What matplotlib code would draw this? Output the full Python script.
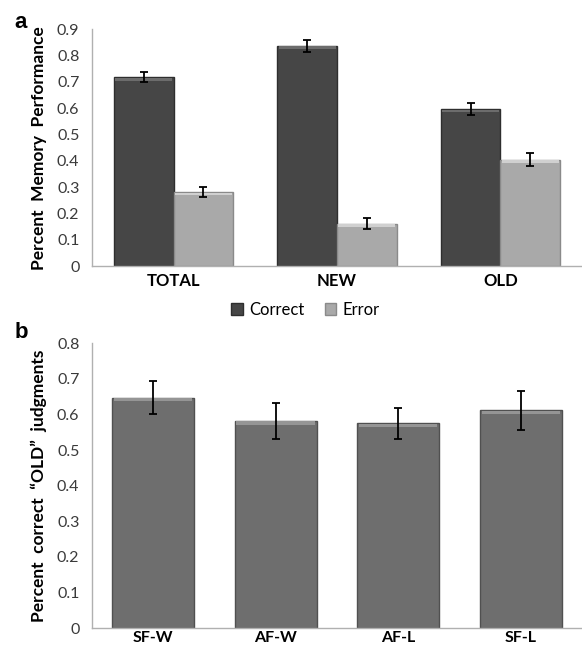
import matplotlib
matplotlib.use("Agg")
import matplotlib.pyplot as plt
import numpy as np

# panel a: memory performance by trial type
categories_a = ["TOTAL", "NEW", "OLD"]
correct = [0.717, 0.837, 0.597]
correct_err = [0.019, 0.023, 0.024]
error = [0.282, 0.162, 0.405]
error_err = [0.018, 0.021, 0.025]
yticks_a = [0, 0.1, 0.2, 0.3, 0.4, 0.5, 0.6, 0.7, 0.8, 0.9]

# panel b: correct OLD judgments by condition
categories_b = ["SF-W", "AF-W", "AF-L", "SF-L"]
old_correct = [0.647, 0.582, 0.575, 0.611]
old_err = [0.047, 0.050, 0.044, 0.054]
yticks_b = [0, 0.1, 0.2, 0.3, 0.4, 0.5, 0.6, 0.7, 0.8]

FONT = "Lato"
TICK_COLOR = "#3a3a3a"
SPINE_COLOR = "#b0b0b0"


def style_axis(ax, yticks, ymax):
    ax.set_ylim(0, ymax)
    ax.set_yticks(yticks)
    ax.set_yticklabels([f"{t:g}" for t in yticks], fontsize=11.5,
                       family=FONT, color=TICK_COLOR)
    ax.tick_params(axis="y", length=0, pad=9)
    ax.tick_params(axis="x", length=0, pad=5)
    for side in ["top", "right"]:
        ax.spines[side].set_visible(False)
    for side in ["left", "bottom"]:
        ax.spines[side].set_color(SPINE_COLOR)
        ax.spines[side].set_linewidth(1.0)


def beveled_bars(ax, x, heights, width, face, edge, top, strip):
    bars = ax.bar(x, heights, width=width, color=face, edgecolor=edge,
                  linewidth=1.0, zorder=2)
    # light strip along the top, like the bevel in the original
    ax.bar(x, [strip] * len(heights), width=width * 0.96,
           bottom=np.array(heights) - strip * 1.2, color=top, linewidth=0,
           zorder=3)
    return bars


fig = plt.figure(figsize=(5.82, 6.51), dpi=100)
fig.patch.set_facecolor("white")

# ---- panel a ----
ax1 = fig.add_axes([0.158, 0.591, 0.842, 0.364])
xa = np.arange(len(categories_a))
w = 0.365
b1 = beveled_bars(ax1, xa - w / 2, correct, w, "#464646", "#2e2e2e", "#6c6c6c", 0.01)
b2 = beveled_bars(ax1, xa + w / 2, error, w, "#a9a9a9", "#8a8a8a", "#d0d0d0", 0.01)
ax1.errorbar(xa - w / 2, correct, yerr=correct_err, fmt="none", ecolor="black",
             elinewidth=1.3, capsize=3, capthick=1.3, zorder=4)
ax1.errorbar(xa + w / 2, error, yerr=error_err, fmt="none", ecolor="black",
             elinewidth=1.3, capsize=3, capthick=1.3, zorder=4)
ax1.set_xlim(-0.5, len(categories_a) - 0.5)
ax1.set_xticks(xa)
ax1.set_xticklabels(categories_a, fontsize=12, fontweight="bold", family=FONT)
style_axis(ax1, yticks_a, 0.9)
ax1.set_ylabel("Percent  Memory  Performance", fontsize=12.5,
               fontweight="bold", family=FONT, labelpad=7)
leg = fig.legend([b1, b2], ["Correct", "Error"], loc="center",
                 bbox_to_anchor=(0.525, 0.524), ncol=2, frameon=False,
                 prop={"family": FONT, "size": 12}, handlelength=0.7,
                 handleheight=0.7, handletextpad=0.4, columnspacing=1.2)

# ---- panel b ----
ax2 = fig.add_axes([0.158, 0.035, 0.842, 0.438])
xb = np.arange(len(categories_b))
beveled_bars(ax2, xb, old_correct, 0.667, "#6e6e6e", "#505050", "#959595", 0.009)
ax2.errorbar(xb, old_correct, yerr=old_err, fmt="none", ecolor="black",
             elinewidth=1.3, capsize=3, capthick=1.3, zorder=4)
ax2.set_xlim(-0.5, len(categories_b) - 0.5)
ax2.set_xticks(xb)
ax2.set_xticklabels(categories_b, fontsize=11.5, fontweight="bold", family=FONT)
ax2.tick_params(axis="x", pad=2)
style_axis(ax2, yticks_b, 0.8)
ax2.tick_params(axis="x", pad=2)
ax2.set_ylabel("Percent  correct  \u201cOLD\u201d  judgments", fontsize=12.5,
               fontweight="bold", family=FONT, labelpad=7)

fig.text(0.025, 0.965, "a", fontsize=16, fontweight="bold",
         family="Liberation Sans", va="center")
fig.text(0.025, 0.49, "b", fontsize=16, fontweight="bold",
         family="Liberation Sans", va="center")

fig.savefig("out.png", dpi=100)
